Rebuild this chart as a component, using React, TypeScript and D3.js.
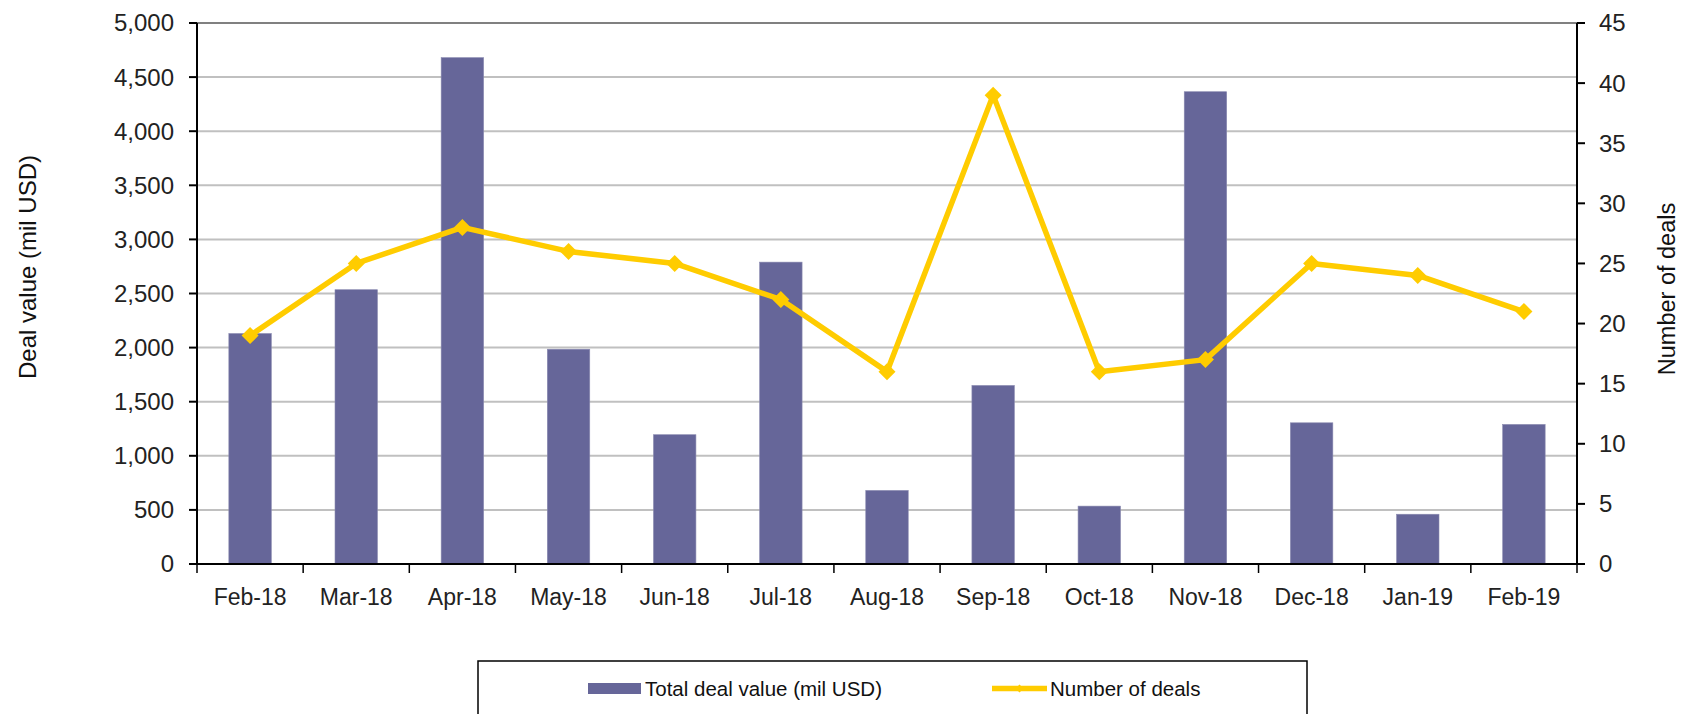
import React from "react";
import * as d3 from "d3";

const categories = ["Feb-18","Mar-18","Apr-18","May-18","Jun-18","Jul-18","Aug-18","Sep-18","Oct-18","Nov-18","Dec-18","Jan-19","Feb-19"];
const dealValues = [2130, 2535, 4680, 1985, 1195, 2790, 680, 1650, 535, 4365, 1305, 460, 1290];
const dealCounts = [19, 25, 28, 26, 25, 22, 16, 39, 16, 17, 25, 24, 21];
const leftTicks = [0, 500, 1000, 1500, 2000, 2500, 3000, 3500, 4000, 4500, 5000];
const rightTicks = [0, 5, 10, 15, 20, 25, 30, 35, 40, 45];

const W = 1684, H = 714;
const X0 = 197, X1 = 1577, Y0 = 564, Y1 = 23;
const FONT = "'Liberation Sans', Arial, Helvetica, sans-serif";
const BAR = "#666699";
const LINE = "#FFCC00";

export default function App() {
  const x = d3.scaleBand<string>().domain(categories).range([X0, X1]).paddingInner(0).paddingOuter(0);
  const yL = d3.scaleLinear().domain([0, 5000]).range([Y0, Y1]);
  const yR = d3.scaleLinear().domain([0, 45]).range([Y0, Y1]);
  const bw = x.bandwidth() / 2.5;
  const fmt = d3.format(",");
  const line = d3.line<number>()
    .x((_, i) => (x(categories[i]) as number) + x.bandwidth() / 2)
    .y((d) => yR(d));
  const diamond = (cx: number, cy: number, r: number) =>
    `M${cx},${cy - r}L${cx + r},${cy}L${cx},${cy + r}L${cx - r},${cy}Z`;
  const boundaries = categories.map((c) => x(c) as number).concat([X1]);

  return (
    <svg width={W} height={H} style={{ position: "absolute", left: 0, top: 0, background: "#fff" }} fontFamily={FONT}>
      {/* gridlines */}
      {leftTicks.map((t) => (
        <line key={"g" + t} x1={X0} x2={X1} y1={yL(t)} y2={yL(t)}
          stroke={t === 5000 ? "#808080" : "#c0c0c0"} strokeWidth={2} />
      ))}
      {/* bars */}
      {dealValues.map((v, i) => {
        const cx = (x(categories[i]) as number) + x.bandwidth() / 2;
        return (
          <rect key={"b" + i} x={cx - bw / 2} y={yL(v)} width={bw} height={Y0 - yL(v)}
            fill={BAR} stroke="#8a8ab0" strokeWidth={0.6} />
        );
      })}
      {/* line */}
      <path d={line(dealCounts) || ""} fill="none" stroke={LINE} strokeWidth={5.5} strokeLinejoin="round" />
      {dealCounts.map((v, i) => {
        const cx = (x(categories[i]) as number) + x.bandwidth() / 2;
        return <path key={"m" + i} d={diamond(cx, yR(v), 8.5)} fill={LINE} />;
      })}
      {/* axes */}
      <line x1={X0} x2={X0} y1={Y1} y2={Y0 + 1} stroke="#000" strokeWidth={2} />
      <line x1={X1} x2={X1} y1={Y1} y2={Y0 + 1} stroke="#000" strokeWidth={2} />
      <line x1={X0 - 8} x2={X1 + 8} y1={Y0} y2={Y0} stroke="#000" strokeWidth={2} />
      {leftTicks.map((t) => (
        <g key={"l" + t}>
          <line x1={X0 - 8} x2={X0} y1={yL(t)} y2={yL(t)} stroke="#000" strokeWidth={2} />
          <text x={174} y={yL(t)} dy="0.35em" textAnchor="end" fontSize={24} fill="#222">{fmt(t)}</text>
        </g>
      ))}
      {rightTicks.map((t) => (
        <g key={"r" + t}>
          <line x1={X1} x2={X1 + 8} y1={yR(t)} y2={yR(t)} stroke="#000" strokeWidth={2} />
          <text x={1599} y={yR(t)} dy="0.35em" textAnchor="start" fontSize={24} fill="#222">{t}</text>
        </g>
      ))}
      {boundaries.map((b, i) => (
        <line key={"xt" + i} x1={b} x2={b} y1={Y0} y2={Y0 + 9} stroke="#000" strokeWidth={1.5} />
      ))}
      {categories.map((c) => (
        <text key={"x" + c} x={(x(c) as number) + x.bandwidth() / 2} y={605} textAnchor="middle" fontSize={23} fill="#222">{c}</text>
      ))}
      {/* axis titles */}
      <text transform={`translate(36,267) rotate(-90)`} textAnchor="middle" fontSize={24} fill="#111">Deal value (mil USD)</text>
      <text transform={`translate(1675,289) rotate(-90)`} textAnchor="middle" fontSize={23.5} fill="#111">Number of deals</text>
      {/* legend */}
      <rect x={478} y={661} width={829} height={70} fill="#fff" stroke="#000" strokeWidth={1.5} />
      <rect x={588} y={683} width={53} height={11} fill={BAR} />
      <text x={645} y={696} fontSize={20.5} fill="#111">Total deal value (mil USD)</text>
      <line x1={992} x2={1047} y1={688.5} y2={688.5} stroke={LINE} strokeWidth={5.5} />
      <path d={diamond(1019.5, 688.5, 4)} fill={LINE} />
      <text x={1050} y={696} fontSize={20.5} fill="#111">Number of deals</text>
    </svg>
  );
}
